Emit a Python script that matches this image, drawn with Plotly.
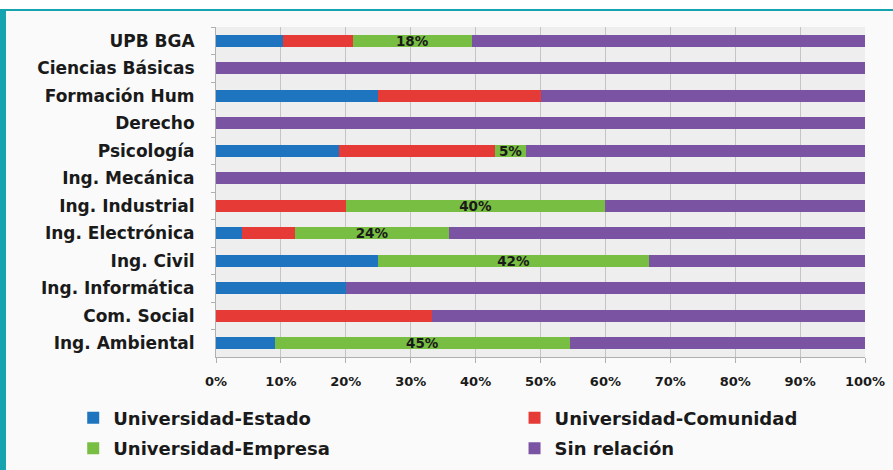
import plotly.graph_objects as go

categories = ["UPB BGA", "Ciencias Básicas", "Formación Hum", "Derecho", "Psicología",
              "Ing. Mecánica", "Ing. Industrial", "Ing. Electrónica", "Ing. Civil",
              "Ing. Informática", "Com. Social", "Ing. Ambiental"]
estado    = [10.3, 0, 25, 0, 19, 0, 0, 4, 25, 20, 0, 9.1]
comunidad = [10.8, 0, 25, 0, 24, 0, 20, 8.2, 0, 0, 33.3, 0]
empresa   = [18.3, 0, 0, 0, 4.8, 0, 40, 23.7, 41.7, 0, 0, 45.4]
sin_rel   = [60.6, 100, 50, 100, 52.2, 100, 40, 64.1, 33.3, 80, 66.7, 45.5]
empresa_labels = ["18%", "", "", "", "5%", "", "40%", "24%", "42%", "", "", "45%"]
x_ticks = [0, 10, 20, 30, 40, 50, 60, 70, 80, 90, 100]

FONT = "DejaVu Sans"
TXT = "#1a1a1a"

fig = go.Figure()
series = [
    ("Universidad-Estado", estado, "#1f74c0", "legend", None),
    ("Universidad-Comunidad", comunidad, "#e53a35", "legend2", None),
    ("Universidad-Empresa", empresa, "#78be43", "legend", empresa_labels),
    ("Sin relación", sin_rel, "#7b53a3", "legend2", None),
]
for name, vals, col, lg, txt in series:
    fig.add_trace(go.Bar(
        y=categories, x=vals, name=name, orientation="h",
        marker=dict(color=col, line=dict(width=0)),
        text=txt, textposition="inside" if txt else None,
        insidetextanchor="middle", constraintext="none",
        textfont=dict(family=FONT, size=13.5, color=TXT, weight="bold"),
        legend=lg, legendgroup=name,
    ))

fig.update_layout(
    barmode="stack", bargap=0.56,
    width=893, height=470,
    margin=dict(l=216, r=28, t=27, b=113, autoexpand=False),
    paper_bgcolor="#fafafa", plot_bgcolor="#eeeeee",
    font=dict(family=FONT, color=TXT),
    xaxis=dict(range=[0, 100], tickvals=x_ticks,
               ticktext=[f"{v}%" for v in x_ticks],
               showgrid=True, gridcolor="#c4c4c4", gridwidth=1,
               zeroline=False, showline=True, linecolor="#b0b0b0",
               ticks="outside", ticklen=5, tickcolor="#b0b0b0",
               ticklabelstandoff=7, automargin=False,
               tickfont=dict(family=FONT, size=13, color=TXT, weight="bold"),
               fixedrange=True),
    yaxis=dict(autorange="reversed", showgrid=False, showline=True,
               linecolor="#b0b0b0", ticks="outside", ticklen=4,
               tickcolor="#b0b0b0", tickson="boundaries",
               ticklabelstandoff=17, automargin=False,
               tickfont=dict(family=FONT, size=17, color=TXT, weight="bold"),
               fixedrange=True),
    legend=dict(orientation="v", x=-0.22, xanchor="left", y=-0.129, yanchor="top",
                bgcolor="rgba(0,0,0,0)", tracegroupgap=4, traceorder="grouped",
                font=dict(family=FONT, size=18, color=TXT, weight="bold")),
    legend2=dict(orientation="v", x=0.46, xanchor="left", y=-0.129, yanchor="top",
                 bgcolor="rgba(0,0,0,0)", tracegroupgap=4, traceorder="grouped",
                 font=dict(family=FONT, size=18, color=TXT, weight="bold")),
    shapes=[
        dict(type="rect", xref="paper", yref="paper", x0=-0.34, x1=1.05,
             y0=1.0545, y1=1.09, fillcolor="white", line=dict(width=0), layer="below"),
        dict(type="rect", xref="paper", yref="paper", x0=-0.34, x1=1.05,
             y0=1.0485, y1=1.0545, fillcolor="#15a3b0", line=dict(width=0)),
        dict(type="rect", xref="paper", yref="paper", x0=-0.34, x1=-0.3236,
             y0=-0.35, y1=1.0545, fillcolor="#15a3b0", line=dict(width=0)),
    ],
)

fig.write_html("out.html", config={"displayModeBar": False},
               post_script="document.body.style.margin='0';")
